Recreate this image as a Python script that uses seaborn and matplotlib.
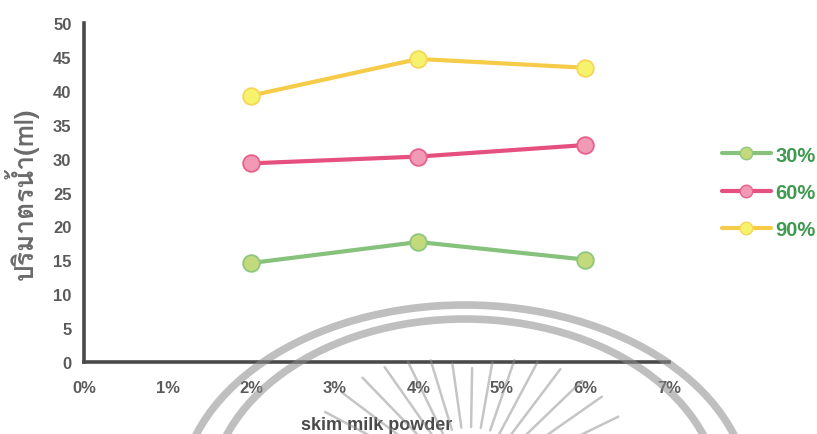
import matplotlib
matplotlib.use("Agg")
import matplotlib.pyplot as plt
from matplotlib import font_manager, ft2font
from matplotlib.patches import Ellipse
from matplotlib.lines import Line2D
import numpy as np
import pandas as pd
import seaborn as sns

# ---- data -------------------------------------------------------------
concentration = [2, 4, 6]                      # skim milk powder (%)
series_labels = ["30%", "60%", "90%"]
volume_30 = [14.6, 17.7, 15.1]
volume_60 = [29.3, 30.3, 32.0]
volume_90 = [39.3, 44.7, 43.4]
x_tick_labels = ["0%", "1%", "2%", "3%", "4%", "5%", "6%", "7%"]
y_label = "ปริมาตรน้ำ(ml)"
x_label = "skim milk powder"

line_colors = ["#86c27c", "#e6507e", "#f6cb48"]
face_colors = ["#c2d97c", "#f19ab6", "#f7f26c"]
edge_colors = ["#8fc67f", "#e9608a", "#f5d65a"]

df = pd.DataFrame({
    "conc": concentration * 3,
    "volume": volume_30 + volume_60 + volume_90,
    "level": sum([[lab] * len(concentration) for lab in series_labels], []),
})

sns.set_theme(style="white")
plt.rcParams["font.family"] = ["Liberation Sans", "DejaVu Sans"]


def font_with_glyph(ch):
    """Return a family name that contains the given character."""
    best = None
    for f in font_manager.fontManager.ttflist:
        try:
            cmap = ft2font.FT2Font(f.fname).get_charmap()
        except Exception:
            continue
        if ord(ch) in cmap:
            if f.weight in ("bold", 700):
                return f.name
            best = best or f.name
    return best or "DejaVu Sans"


thai_family = font_with_glyph("ร")

fig = plt.figure(figsize=(8.17, 4.35), dpi=100)
ax = fig.add_axes([0.1028, 0.1655, 0.7160, 0.7793])

sns.lineplot(data=df, x="conc", y="volume", hue="level", hue_order=series_labels,
             palette=line_colors, marker="o", markersize=12, linewidth=3,
             legend=False, ax=ax)

for ln, fc, ec in zip(ax.lines, face_colors, edge_colors):
    ln.set_markerfacecolor(fc)
    ln.set_markeredgecolor(ec)
    ln.set_markeredgewidth(1.3)
    ln.set_solid_capstyle("round")

ax.set_xlim(0, 7)
ax.set_ylim(0, 50)
ax.set_xticks(range(8))
ax.set_xticklabels(x_tick_labels)
ax.set_yticks(range(0, 51, 5))

for side in ("top", "right"):
    ax.spines[side].set_visible(False)
for side in ("left", "bottom"):
    ax.spines[side].set_color("#4a4a4a")
    ax.spines[side].set_linewidth(2.6)

ax.tick_params(axis="both", direction="out", length=4, width=2, color="#555555",
               labelsize=12, labelcolor="#5a5a5a", pad=5)
ax.tick_params(axis="x", pad=9)
for lab in ax.get_xticklabels() + ax.get_yticklabels():
    lab.set_fontweight("bold")

ax.set_xlabel(x_label, fontsize=13, fontweight="bold", color="#4a4a4a", labelpad=15)
ax.set_ylabel(y_label, fontsize=19, fontweight="bold", color="#6a6a6a",
              family=[thai_family, "DejaVu Sans"], labelpad=10)
ax.patch.set_alpha(0)

handles = [Line2D([], [], color=lc, lw=3, marker="o", markersize=9,
                  markerfacecolor=fc, markeredgecolor=ec)
           for lc, fc, ec in zip(line_colors, face_colors, edge_colors)]
leg = fig.legend(handles, series_labels, loc="center left",
                 bbox_to_anchor=(0.884, 0.556), frameon=False, borderpad=0,
                 borderaxespad=0, handlelength=2.4, handletextpad=0.25,
                 labelspacing=0.9,
                 prop={"family": "Liberation Sans", "weight": "bold", "size": 14.5})
for t in leg.get_texts():
    t.set_color("#3f9a50")

# ---- seal watermark printed across the lower half of the page ---------
wm = fig.add_axes([0, 0, 1, 1], zorder=5)
wm.set_xlim(0, 817)
wm.set_ylim(435, 0)
wm.axis("off")
wm.patch.set_alpha(0)
wm_color = "#8c8c8c"
wm.add_patch(Ellipse((465, 500), 570, 388, fill=False, lw=5.5,
                     edgecolor=wm_color, alpha=0.55))
wm.add_patch(Ellipse((465, 500), 510, 360, fill=False, lw=5.5,
                     edgecolor=wm_color, alpha=0.55))
cx, cy = 470, 490
for ang in np.arange(26, 160, 9):
    th = np.deg2rad(ang)
    r_in, r_out = 62, 120 + 50 * abs(np.cos(th))
    wm.plot([cx + r_in * np.cos(th), cx + r_out * np.cos(th)],
            [cy - r_in * np.sin(th), cy - r_out * np.sin(th)],
            color=wm_color, lw=1.8, alpha=0.5, solid_capstyle="round")

fig.savefig("out.png", dpi=100)
